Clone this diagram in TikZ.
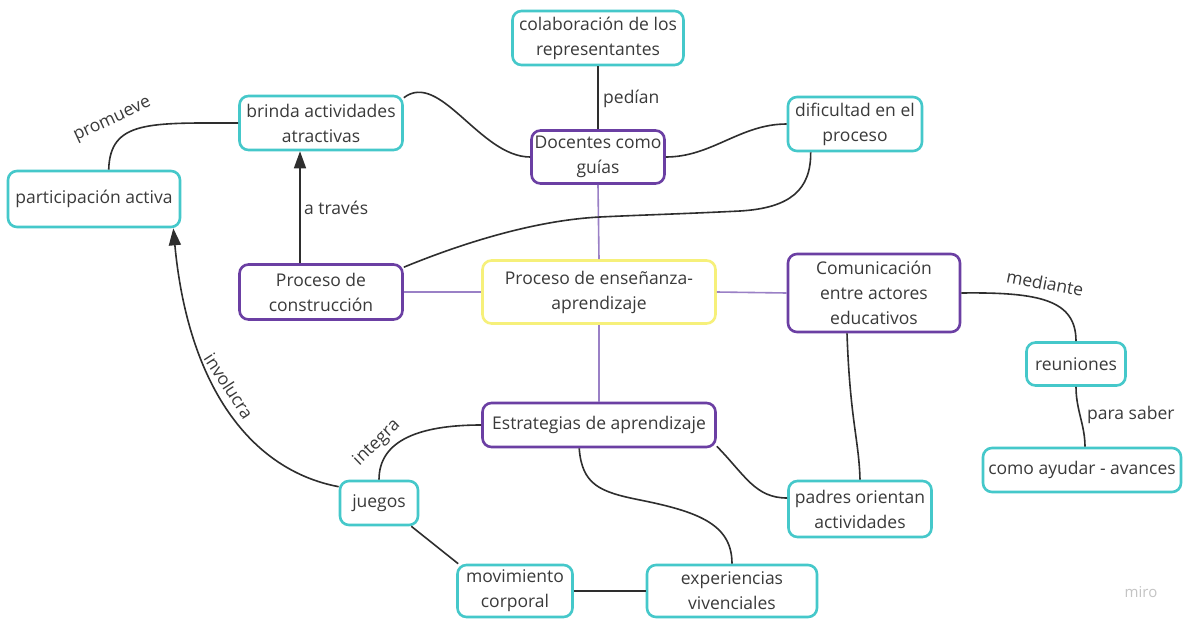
\documentclass[tikz,border=0pt]{standalone}
\usepackage{fontspec}
\setmainfont{Open Sans}
\usetikzlibrary{arrows.meta,calc}
\definecolor{cy}{HTML}{45C8CA}
\definecolor{pu}{HTML}{6B3FA3}
\definecolor{ye}{HTML}{F6F07A}
\definecolor{pl}{HTML}{9A80C6}
\definecolor{tx}{HTML}{3A3A3A}
\definecolor{ln}{HTML}{2E2E2E}
\definecolor{wm}{HTML}{C4C4C4}
\begin{document}
\begin{tikzpicture}[x=1pt,y=-1pt,
  box/.style={draw, rounded corners=9pt, line width=2.6pt, align=center, inner sep=0pt, fill=white, text=tx, font=\fontsize{17.5}{25}\selectfont},
  cbox/.style={box, draw=cy},
  pbox/.style={box, draw=pu},
  ybox/.style={box, draw=ye},
  link/.style={draw=ln, line width=1.6pt},
  plink/.style={draw=pl, line width=1.6pt},
  arr/.style={link, -{Triangle[length=17pt,width=12pt]}},
  lbl/.style={text=tx, font=\fontsize{17.5}{21}\selectfont, inner sep=0pt}
]
\fill[white] (0,0) rectangle (1184,619);
\useasboundingbox (0,0) rectangle (1184,619);

% nodes
\node[cbox, minimum width=171pt, minimum height=54pt] (colab) at (598,38) {colaboración de los\\representantes};
\node[pbox, minimum width=133pt, minimum height=53pt] (doc) at (598,157) {Docentes como\\guías};
\node[cbox, minimum width=134pt, minimum height=54pt] (dif) at (855,124) {dificultad en el\\proceso};
\node[cbox, minimum width=163pt, minimum height=54pt] (brinda) at (321,123) {brinda actividades\\atractivas};
\node[cbox, minimum width=172pt, minimum height=56pt] (part) at (94,199) {participación activa};
\node[pbox, minimum width=163pt, minimum height=55pt] (cons) at (321,292) {Proceso de\\construcción};
\node[ybox, minimum width=233pt, minimum height=63pt] (ens) at (599,292) {Proceso de enseñanza-\\aprendizaje};
\node[pbox, minimum width=172pt, minimum height=78pt] (com) at (874,293) {Comunicación\\entre actores\\educativos};
\node[cbox, minimum width=99pt, minimum height=43pt] (reu) at (1076,364) {reuniones};
\node[cbox, minimum width=198pt, minimum height=44pt] (como) at (1082,470) {como ayudar - avances};
\node[cbox, minimum width=143pt, minimum height=56pt] (padres) at (860,509) {padres orientan\\actividades};
\node[pbox, minimum width=233pt, minimum height=44pt] (estr) at (599,425) {Estrategias de aprendizaje};
\node[cbox, minimum width=78pt, minimum height=44pt] (juegos) at (379,503) {juegos};
\node[cbox, minimum width=115pt, minimum height=52pt] (mov) at (515,591) {movimiento\\corporal};
\node[cbox, minimum width=170pt, minimum height=52pt] (exp) at (732,591) {experiencias\\vivenciales};

% purple links to centre
\draw[plink] (doc.south) -- (ens.north);
\draw[plink] (ens.south) -- (estr.north);
\draw[plink] (cons.east) -- (ens.west);
\draw[plink] (ens.east) -- (com.west);

% black links
\draw[link] (colab.south) -- (doc.north);
\node[lbl, anchor=west] (lped) at (603,99) {pedían};

\draw[link] ($(brinda.north east)+(0,3)$) .. controls (440,70) and (480,157) .. (doc.west);
\draw[link] (doc.east) .. controls (712,157) and (740,124) .. (dif.west);

\draw[link] ($(dif.south west)+(24,0)$) .. controls (811,190) and (790,208) .. (740,211)
   .. controls (680,214) and (640,215) .. (600,217)
   .. controls (540,220) and (470,240) .. ($(cons.north east)+(0,4)$);

\draw[arr] ([xshift=-21pt]cons.north) -- ([xshift=-21pt]brinda.south);
\node[lbl, anchor=west] (ltra) at (304,208) {a través};

\draw[link] (brinda.west) .. controls (150,123) and (110,120) .. ($(part.north west)+(102,0)$);
\node[lbl, rotate=25] (lpro) at (113,121) {promueve};

\draw[arr] ($(juegos.north west)+(0,7)$) .. controls (250,470) and (188,385) .. ($(part.south east)+(-8,0)$);
\node[lbl, rotate=-57] (linv) at (229,386) {involucra};

\draw[link] (juegos.north) .. controls (379,440) and (420,425) .. (estr.west);
\node[lbl, rotate=44] (lint) at (377,443) {integra};

\draw[link] ($(estr.south west)+(98,0)$) .. controls (582,485) and (600,492) .. (640,500)
   .. controls (700,512) and (732,525) .. (exp.north);
\draw[link] ($(estr.south east)+(0,-2)$) .. controls (745,475) and (755,498) .. ($(padres.west)+(0,-11)$);

\draw[link] ($(juegos.south east)+(-8,0)$) -- ($(mov.north west)+(2,0)$);
\draw[link] (mov.east) -- (exp.west);

\draw[link] ($(com.south)+(-27,0)$) .. controls (850,420) and (859,440) .. (padres.north);

\draw[link] (com.east) .. controls (1040,292) and (1076,300) .. (reu.north);
\node[lbl, rotate=-11] (lmed) at (1045,283) {mediante};

\draw[link] (reu.south) .. controls (1076,410) and (1085,425) .. ($(como.north)+(3,0)$);
\node[lbl, anchor=west] (lpar) at (1087,415) {para saber};

\node[text=wm, font=\fontsize{15}{18}\selectfont] (miro) at (1141,592) {miro};
\end{tikzpicture}
\end{document}
